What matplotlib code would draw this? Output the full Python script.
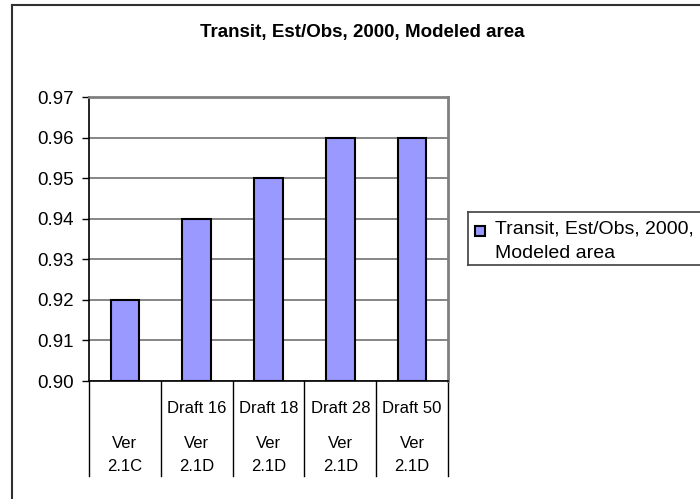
import matplotlib
matplotlib.use("Agg")
import matplotlib.pyplot as plt
from matplotlib.patches import Rectangle
from matplotlib.lines import Line2D
from matplotlib.transforms import blended_transform_factory

plt.rcParams['font.family'] = ['Liberation Sans', 'DejaVu Sans']

title = "Transit, Est/Obs, 2000, Modeled area"
series_name = "Transit, Est/Obs, 2000,\nModeled area"
drafts = ["", "Draft 16", "Draft 18", "Draft 28", "Draft 50"]
versions = ["Ver\n2.1C", "Ver\n2.1D", "Ver\n2.1D", "Ver\n2.1D", "Ver\n2.1D"]
values = [0.92, 0.94, 0.95, 0.96, 0.96]
yticks = [0.90, 0.91, 0.92, 0.93, 0.94, 0.95, 0.96, 0.97]

BAR_COLOR = "#9999FF"
W, H = 700, 499
fig = plt.figure(figsize=(W / 100, H / 100), dpi=100)

def fx(px):
    return px / W

def fy(py):
    return 1 - py / H

# plot area in pixel coordinates
left, right, top, bottom = 89, 448, 97, 381
ax = fig.add_axes([fx(left), fy(bottom), (right - left) / W, (bottom - top) / H])

x = list(range(len(values)))
ax.bar(x, [v - yticks[0] for v in values], bottom=yticks[0], width=0.4,
       color=BAR_COLOR, edgecolor="black", linewidth=1.5, zorder=3)

ax.set_xlim(-0.5, len(values) - 0.5)
ax.set_ylim(yticks[0], yticks[-1])
ax.set_yticks(yticks)
ax.set_yticklabels([f"{t:.2f}" for t in yticks], fontsize=13.5)
ax.set_xticks([])
ax.yaxis.grid(True, color="#666666", linewidth=1.1, zorder=0)
ax.tick_params(axis="y", direction="out", length=5, width=1, color="black", pad=6)

for side in ("top", "right"):
    ax.spines[side].set_color("#808080")
    ax.spines[side].set_linewidth(2)
ax.spines["left"].set_color("black")
ax.spines["left"].set_linewidth(1.2)
ax.spines["bottom"].set_color("black")
ax.spines["bottom"].set_linewidth(1.2)

# two-level category labels below the axis
trans = blended_transform_factory(ax.transData, ax.transAxes)
ph = bottom - top

def yfrac(py):
    return (bottom - py) / ph

for i in range(len(values) + 1):
    ax.add_line(Line2D([i - 0.5, i - 0.5], [0, yfrac(476)], transform=trans,
                       color="black", linewidth=1, clip_on=False))
for i, (d, v) in enumerate(zip(drafts, versions)):
    if d:
        ax.text(i, yfrac(413), d, transform=trans, ha="center", va="baseline", fontsize=12)
    for line, base in zip(v.split("\n"), (448, 471)):
        ax.text(i, yfrac(base), line, transform=trans, ha="center", va="baseline",
                fontsize=12)

# chart title, centred over the whole chart area
fig.text(fx(362), fy(33), title, ha="center", va="center",
         fontsize=13.5, fontweight="bold")

# legend box (runs off the right edge of the chart)
lg_left, lg_top, lg_bottom = 468, 212, 265
for xs, ys in (([lg_left, W + 5], [lg_top, lg_top]),
               ([lg_left, lg_left], [lg_top, lg_bottom]),
               ([lg_left, W + 5], [lg_bottom, lg_bottom])):
    fig.add_artist(Line2D([fx(v) for v in xs], [fy(v) for v in ys],
                          transform=fig.transFigure, color="#404040", linewidth=1.2))
fig.add_artist(Rectangle((fx(475), fy(236)), 10 / W, 10 / H, transform=fig.transFigure,
                         facecolor=BAR_COLOR, edgecolor="black", linewidth=1.5))
for line, base in zip(series_name.split("\n"), (234, 258)):
    fig.text(fx(495), fy(base), line, ha="left", va="baseline", fontsize=14)

# chart area border: top and left edges
fig.add_artist(Line2D([fx(12), fx(12)], [fy(5), -0.05], transform=fig.transFigure,
                      color="#303030", linewidth=1.5))
fig.add_artist(Line2D([fx(12), 1.05], [fy(5), fy(5)], transform=fig.transFigure,
                      color="#303030", linewidth=1.5))

fig.savefig("out.png", dpi=100)
